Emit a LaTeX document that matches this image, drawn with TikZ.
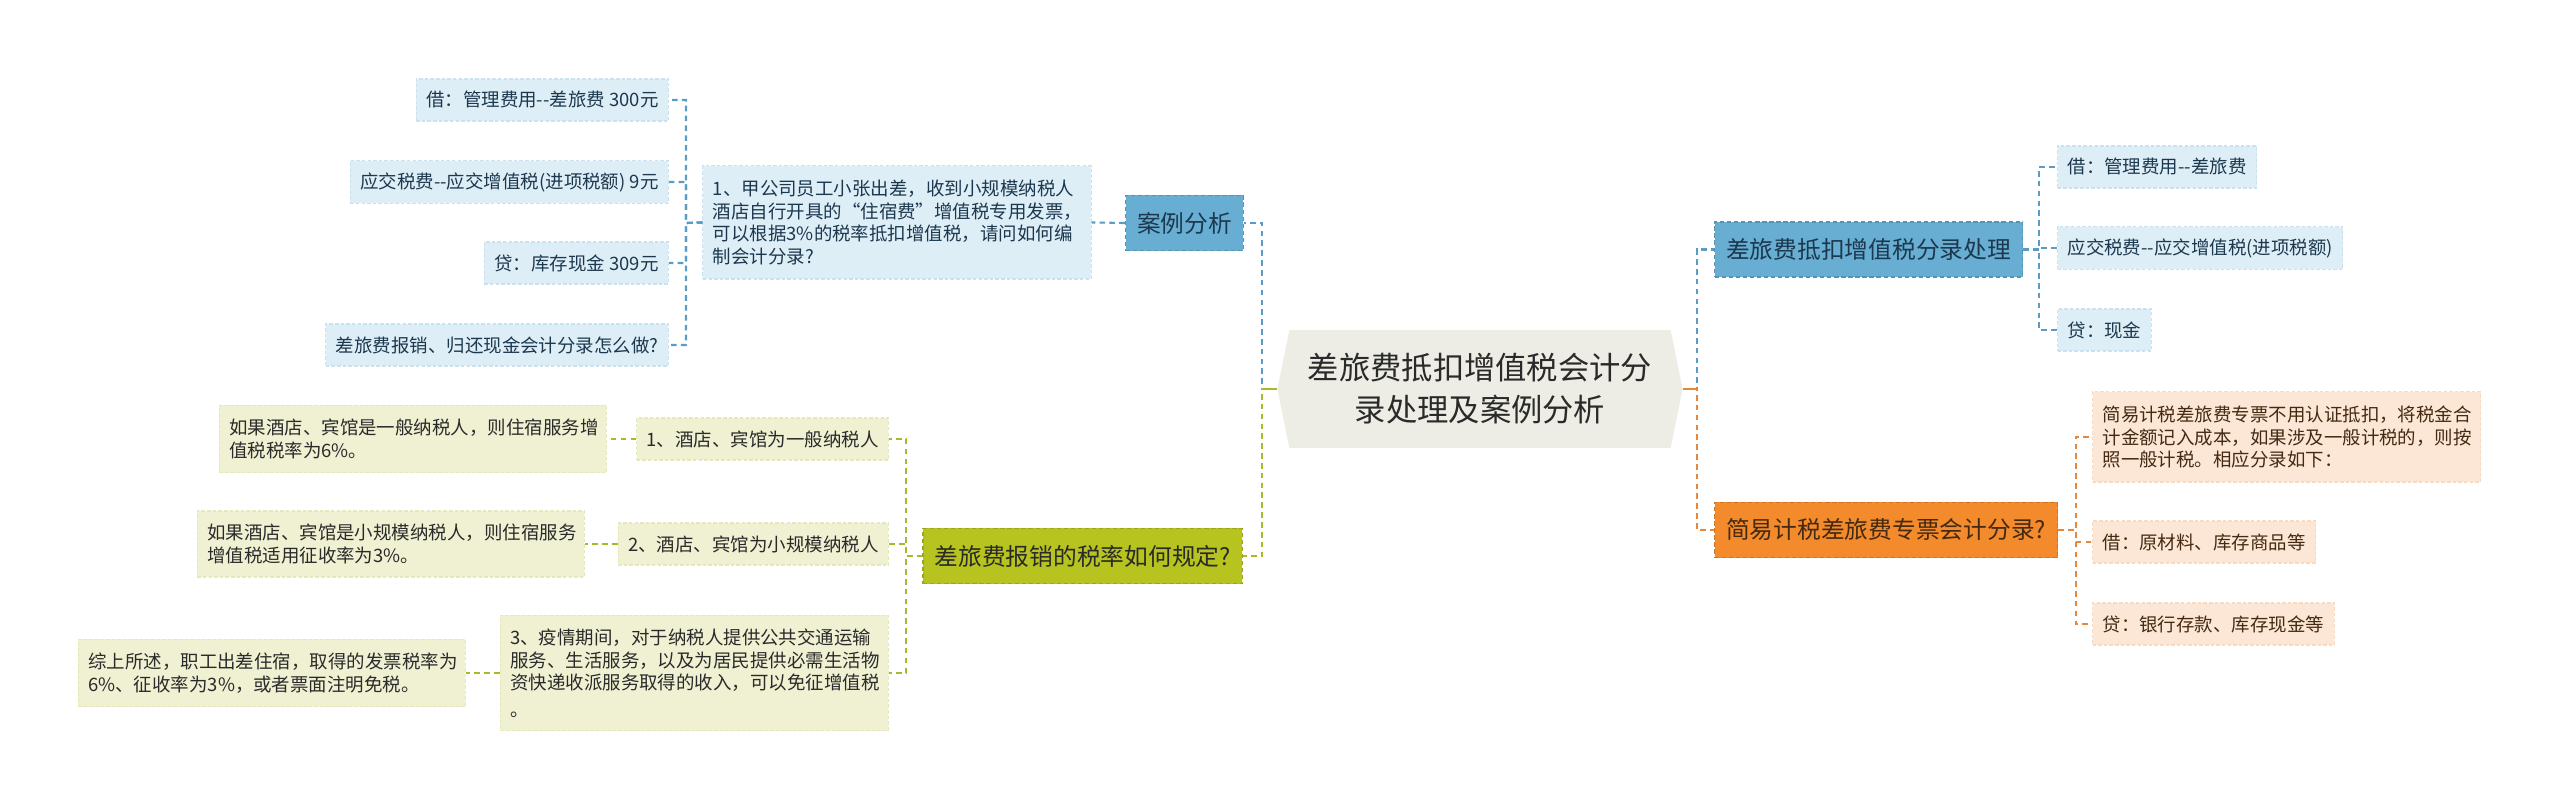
\documentclass[tikz,border=0pt]{standalone}
\usepackage{fontspec}
\newfontfamily\cjk{Noto Sans CJK SC}
\usetikzlibrary{shapes.symbols}
\definecolor{myblue}{RGB}{103,174,210}
\definecolor{mylightblue}{RGB}{222,238,247}
\definecolor{mybluetext}{RGB}{28,56,78}
\definecolor{mybline}{RGB}{90,156,197}
\definecolor{myorange}{RGB}{243,138,43}
\definecolor{mylightorange}{RGB}{252,231,214}
\definecolor{myorangetext}{RGB}{68,42,18}
\definecolor{myoline}{RGB}{232,135,58}
\definecolor{mygreen}{RGB}{183,195,31}
\definecolor{mylightgreen}{RGB}{240,241,210}
\definecolor{mygline}{RGB}{169,185,43}
\definecolor{myroot}{RGB}{237,237,229}
\definecolor{mytext}{RGB}{42,42,42}

\begin{document}
\begin{tikzpicture}[x=0.01cm,y=-0.01cm,
  sub/.style={font=\cjk\fontsize{5.25}{6.5}\selectfont, inner xsep=0.1cm, minimum height=0.42cm, dash pattern=on 1pt off 0.6pt, line width=0.3pt},
  para/.style={sub, align=left, inner ysep=0.1cm},
  main/.style={font=\cjk\fontsize{6.75}{8}\selectfont, inner xsep=0.115cm, minimum height=0.55cm, dash pattern=on 1.2pt off 0.8pt, line width=0.4pt},
  bsub/.style={fill=mylightblue, draw=mylightblue!85!mybline, text=mybluetext},
  osub/.style={fill=mylightorange, draw=mylightorange!85!myoline, text=myorangetext},
  gsub/.style={fill=mylightgreen, draw=mylightgreen!85!mygline, text=mytext},
  link/.style={line width=0.6pt, dash pattern=on 1.6pt off 1.2pt},
  bline/.style={link, draw=mybline},
  oline/.style={link, draw=myoline},
  gline/.style={link, draw=mygline}]
\useasboundingbox (0,0) rectangle (2560,810);

\node[shape=signal, signal to=west and east, signal pointer angle=157, fill=myroot, minimum width=4.05cm, minimum height=1.18cm, align=center, text=mytext, font=\cjk\fontsize{8.9}{12}\selectfont] (root) at (1480,389) {差旅费抵扣增值税会计分\\录处理及案例分析};
\coordinate (lfork) at (1262,389);
\coordinate (rfork) at (1697,389);

\node[main, fill=myblue, draw=myblue!85!black, text=mybluetext] (case) at (1184.5,223) {案例分析};
\node[para, bsub, text width=3.68cm, minimum height=1.13cm] (caseq) at (897,222.5) {1、甲公司员工小张出差，收到小规模纳税人\\酒店自行开具的“住宿费”增值税专用发票，\\可以根据3\%的税率抵扣增值税，请问如何编\\制会计分录?};
\coordinate (cfork) at (686,223);
\node[sub, bsub, anchor=east] (A1) at (669,100) {借：管理费用-{}-差旅费 300元};
\node[sub, bsub, anchor=east] (A2) at (669,182) {应交税费-{}-应交增值税(进项税额) 9元};
\node[sub, bsub, anchor=east] (A3) at (669,263) {贷：库存现金 309元};
\node[sub, bsub, anchor=east] (A4) at (669,345) {差旅费报销、归还现金会计分录怎么做?};

\node[main, fill=myblue, draw=myblue!85!black, text=mybluetext, anchor=west] (R1) at (1714,249.5) {差旅费抵扣增值税分录处理};
\coordinate (r1fork) at (2039,249.5);
\node[sub, bsub, anchor=west] (R1a) at (2057,167) {借：管理费用-{}-差旅费};
\node[sub, bsub, anchor=west] (R1b) at (2057,248) {应交税费-{}-应交增值税(进项税额)};
\node[sub, bsub, anchor=west] (R1c) at (2057,330) {贷：现金};

\node[main, fill=myorange, draw=myorange!85!black, text=myorangetext, anchor=west] (R2) at (1714,530) {简易计税差旅费专票会计分录?};
\coordinate (r2fork) at (2076,530);
\node[para, osub, anchor=west, text width=3.68cm, minimum height=0.9cm] (R2a) at (2092,437) {简易计税差旅费专票不用认证抵扣，将税金合\\计金额记入成本，如果涉及一般计税的，则按\\照一般计税。相应分录如下：};
\node[sub, osub, anchor=west] (R2b) at (2092,542) {借：原材料、库存商品等};
\node[sub, osub, anchor=west] (R2c) at (2092,624) {贷：银行存款、库存现金等};

\node[main, fill=mygreen, draw=mygreen!85!black, text=mytext, anchor=east] (L1) at (1243,556) {差旅费报销的税率如何规定?};
\coordinate (l1fork) at (906,556);
\node[sub, gsub, anchor=east] (L1a) at (889,439) {1、酒店、宾馆为一般纳税人};
\node[sub, gsub, anchor=east] (L1b) at (889,544) {2、酒店、宾馆为小规模纳税人};
\node[para, gsub, anchor=east, text width=3.68cm, minimum height=1.15cm] (L1c) at (889,673) {3、疫情期间，对于纳税人提供公共交通运输\\服务、生活服务，以及为居民提供必需生活物\\资快递收派服务取得的收入，可以免征增值税\\[1pt]。};
\node[para, gsub, anchor=east, text width=3.67cm, minimum height=0.67cm] (L1a1) at (607,439) {如果酒店、宾馆是一般纳税人，则住宿服务增\\值税税率为6\%。};
\node[para, gsub, anchor=east, text width=3.67cm, minimum height=0.66cm] (L1b1) at (585,544) {如果酒店、宾馆是小规模纳税人，则住宿服务\\增值税适用征收率为3\%。};
\node[para, gsub, anchor=east, text width=3.67cm, minimum height=0.67cm] (L1c1) at (466,673) {综上所述，职工出差住宿，取得的发票税率为\\6\%、征收率为3\%，或者票面注明免税。};

\draw[bline] (root.west) -- (lfork) |- (case.east);
\draw[gline] (root.west) -- (lfork) |- (L1.east);
\draw[bline] (root.east) -- (rfork) |- (R1.west);
\draw[oline] (root.east) -- (rfork) |- (R2.west);
\draw[gline, solid] (root.west) -- (lfork);
\draw[oline, solid] (root.east) -- (rfork);

\draw[bline] (case.west) -- (caseq.east);
\foreach \n in {A1,A2,A3,A4}
  \draw[bline] (caseq.west) -- (cfork) |- (\n.east);
\foreach \n in {R1a,R1b,R1c}
  \draw[bline] (R1.east) -- (r1fork) |- (\n.west);
\foreach \n in {R2a,R2b,R2c}
  \draw[oline] (R2.east) -- (r2fork) |- (\n.west);
\foreach \n in {L1a,L1b,L1c}
  \draw[gline] (L1.west) -- (l1fork) |- (\n.east);
\draw[gline] (L1a.west) -- (L1a1.east);
\draw[gline] (L1b.west) -- (L1b1.east);
\draw[gline] (L1c.west) -- (L1c1.east);
\end{tikzpicture}
\end{document}
